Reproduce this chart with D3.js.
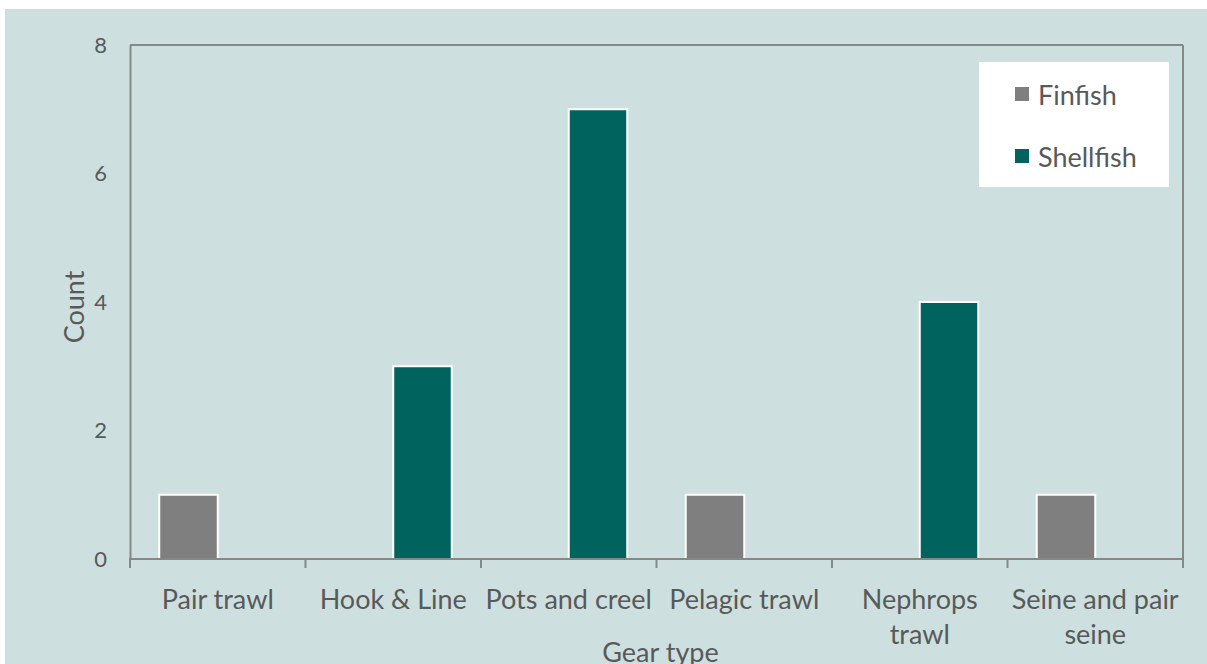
<!DOCTYPE html>
<html>
<head>
<meta charset="utf-8">
<script src="https://cdn.jsdelivr.net/npm/d3@7"></script>
<style>
  html, body { margin: 0; padding: 0; background: #ffffff; }
  svg { display: block; }
  text { font-family: Lato, "Open Sans", sans-serif; fill: #595959; }
</style>
</head>
<body>
<svg id="chart" width="1207" height="664"></svg>
<script>
// ---- data ----
const categories = ["Pair trawl", "Hook & Line", "Pots and creel", "Pelagic trawl", "Nephrops trawl", "Seine and pair seine"];
const seriesNames = ["Finfish", "Shellfish"];
const finfish = [1, 0, 0, 1, 0, 1];
const shellfish = [0, 3, 7, 0, 4, 0];
const yTicks = [0, 2, 4, 6, 8];
const yTitle = "Count";
const xTitle = "Gear type";

// ---- layout ----
const W = 1207, H = 664;
const plot = { left: 130, right: 1183, top: 45, bottom: 559 };
const colors = { Finfish: "#7f7f7f", Shellfish: "#00635e" };
const axisColor = "#878787";
const fontSize = 27;

const svg = d3.select("#chart");

// background panel
svg.append("rect")
  .attr("x", 5.5).attr("y", 9.5)
  .attr("width", W).attr("height", H)
  .attr("fill", "#cde0df")
  .attr("stroke", "#d6d9d9").attr("stroke-width", 1);

const x0 = d3.scaleBand().domain(categories).range([plot.left, plot.right]).paddingInner(0).paddingOuter(0);
const x1 = d3.scaleBand().domain(seriesNames).range([0, x0.bandwidth()]).paddingInner(0).paddingOuter(0.5);
const y = d3.scaleLinear().domain([0, 8]).range([plot.bottom, plot.top]);

const table = categories.map((c, i) => ({ cat: c, values: [
  { key: "Finfish", value: finfish[i] },
  { key: "Shellfish", value: shellfish[i] }
]}));

// bars
const groups = svg.append("g").selectAll("g").data(table).join("g")
  .attr("transform", d => `translate(${x0(d.cat)},0)`);
groups.selectAll("rect").data(d => d.values.filter(v => v.value > 0)).join("rect")
  .attr("x", v => x1(v.key))
  .attr("y", v => y(v.value))
  .attr("width", x1.bandwidth())
  .attr("height", v => y(0) - y(v.value))
  .attr("fill", v => colors[v.key])
  .attr("stroke", "#ffffff")
  .attr("stroke-width", 2);

// frame: top and right lines
svg.append("line").attr("x1", plot.left).attr("x2", plot.right).attr("y1", plot.top).attr("y2", plot.top)
  .attr("stroke", axisColor).attr("stroke-width", 2);
svg.append("line").attr("x1", plot.right).attr("x2", plot.right).attr("y1", plot.top).attr("y2", plot.bottom)
  .attr("stroke", axisColor).attr("stroke-width", 2);

// y axis
const yAxis = svg.append("g").attr("transform", `translate(${plot.left},0)`)
  .call(d3.axisLeft(y).tickValues(yTicks).tickSize(0).tickPadding(23).tickFormat(d3.format("d")));
yAxis.select(".domain").attr("stroke", axisColor).attr("stroke-width", 2);
yAxis.selectAll("text").style("font-size", "22px").attr("fill", "#595959").style("font-family", "Lato, sans-serif");

// x axis: ticks at category boundaries
const boundaries = categories.map(c => x0(c)).concat([plot.right]);
svg.append("line").attr("x1", plot.left - 1).attr("x2", plot.right + 1).attr("y1", plot.bottom).attr("y2", plot.bottom)
  .attr("stroke", axisColor).attr("stroke-width", 2);
svg.append("g").selectAll("line").data(boundaries).join("line")
  .attr("x1", d => d).attr("x2", d => d)
  .attr("y1", plot.bottom).attr("y2", plot.bottom + 9)
  .attr("stroke", axisColor).attr("stroke-width", 2);

// x labels with wrapping
const maxW = x0.bandwidth() - 4;
const labels = svg.append("g").selectAll("text").data(categories).join("text")
  .attr("x", d => x0(d) + x0.bandwidth() / 2)
  .attr("y", 598)
  .attr("text-anchor", "middle")
  .attr("dominant-baseline", "central")
  .style("font-size", fontSize + "px");
labels.each(function(d) {
  const t = d3.select(this);
  const words = d.split(" ");
  let lines = [], line = [];
  const probe = t.append("tspan");
  words.forEach(w => {
    const test = line.concat([w]).join(" ");
    probe.text(test);
    if (probe.node().getComputedTextLength() > maxW && line.length) {
      lines.push(line.join(" "));
      line = [w];
    } else line.push(w);
  });
  lines.push(line.join(" "));
  probe.remove();
  lines.forEach((l, i) => {
    t.append("tspan").attr("x", x0(d) + x0.bandwidth() / 2).attr("dy", i === 0 ? 0 : 35).text(l);
  });
});

// axis titles
svg.append("text").attr("x", (plot.left + plot.right) / 2 + 4).attr("y", 651)
  .attr("text-anchor", "middle").attr("dominant-baseline", "central")
  .style("font-size", fontSize + "px").text(xTitle);
svg.append("text").attr("transform", "translate(73,307) rotate(-90)")
  .attr("text-anchor", "middle").attr("dominant-baseline", "central")
  .style("font-size", fontSize + "px").text(yTitle);

// legend
const legend = svg.append("g");
legend.append("rect").attr("x", 979).attr("y", 62).attr("width", 190).attr("height", 125).attr("fill", "#ffffff");
const leg = legend.selectAll("g").data(seriesNames).join("g")
  .attr("transform", (d, i) => `translate(1015,${94 + i * 62})`);
leg.append("rect").attr("x", 0).attr("y", -7).attr("width", 14).attr("height", 14).attr("fill", d => colors[d]);
leg.append("text").attr("x", 23).attr("y", 0).attr("dominant-baseline", "central")
  .style("font-size", fontSize + "px").text(d => d);
</script>
</body>
</html>
